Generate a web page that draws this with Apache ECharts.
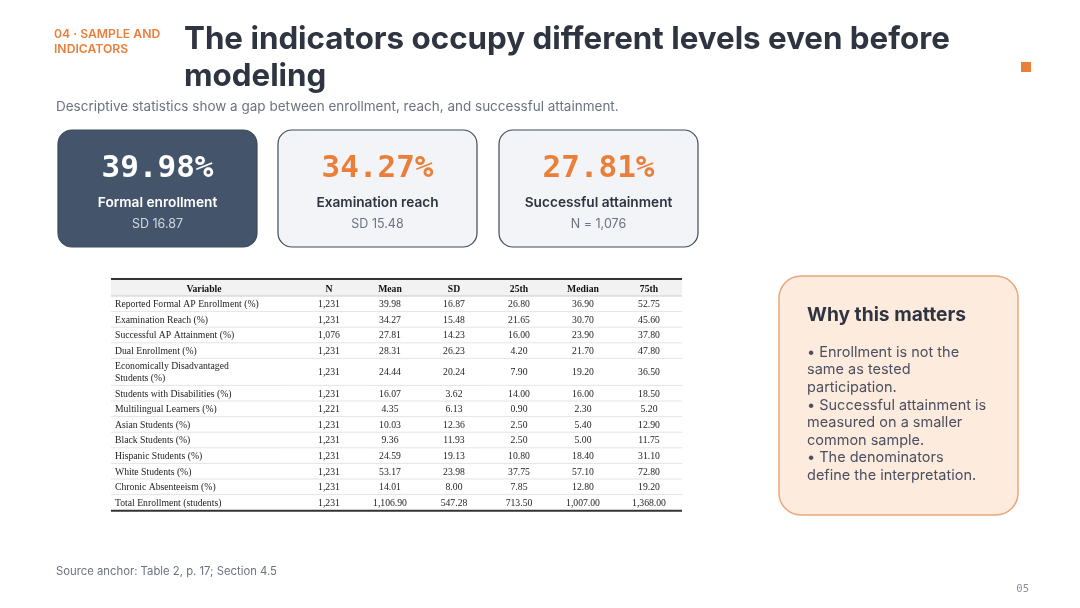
<!DOCTYPE html>
<html><head><meta charset="utf-8">
<script src="https://cdn.jsdelivr.net/npm/echarts@6/dist/echarts.min.js"></script>
<style>html,body{margin:0;padding:0;background:#fff;}#c{width:1080px;height:608px;}</style>
</head><body><div id="c"></div>
<script>
// ---- data ----
const kicker = ["04 · SAMPLE AND", "INDICATORS"];
const titleLines = ["The indicators occupy different levels even before", "modeling"];
const subtitle = "Descriptive statistics show a gap between enrollment, reach, and successful attainment.";
const cardValues = ["39.98%", "34.27%", "27.81%"];
const cardLabels = ["Formal enrollment", "Examination reach", "Successful attainment"];
const cardSubs = ["SD 16.87", "SD 15.48", "N = 1,076"];
const tableHeader = ["Variable", "N", "Mean", "SD", "25th", "Median", "75th"];
const variables = [
  ["Reported Formal AP Enrollment (%)"],
  ["Examination Reach (%)"],
  ["Successful AP Attainment (%)"],
  ["Dual Enrollment (%)"],
  ["Economically Disadvantaged", "Students (%)"],
  ["Students with Disabilities (%)"],
  ["Multilingual Learners (%)"],
  ["Asian Students (%)"],
  ["Black Students (%)"],
  ["Hispanic Students (%)"],
  ["White Students (%)"],
  ["Chronic Absenteeism (%)"],
  ["Total Enrollment (students)"]
];
const nValues = ["1,231","1,231","1,076","1,231","1,231","1,231","1,221","1,231","1,231","1,231","1,231","1,231","1,231"];
const meanValues = ["39.98","34.27","27.81","28.31","24.44","16.07","4.35","10.03","9.36","24.59","53.17","14.01","1,106.90"];
const sdValues = ["16.87","15.48","14.23","26.23","20.24","3.62","6.13","12.36","11.93","19.13","23.98","8.00","547.28"];
const p25Values = ["26.80","21.65","16.00","4.20","7.90","14.00","0.90","2.50","2.50","10.80","37.75","7.85","713.50"];
const medianValues = ["36.90","30.70","23.90","21.70","19.20","16.00","2.30","5.40","5.00","18.40","57.10","12.80","1,007.00"];
const p75Values = ["52.75","45.60","37.80","47.80","36.50","18.50","5.20","12.90","11.75","31.10","72.80","19.20","1,368.00"];
const whyTitle = "Why this matters";
const whyLines = ["• Enrollment is not the","same as tested","participation.","• Successful attainment is","measured on a smaller","common sample.","• The denominators","define the interpretation."];
const source = "Source anchor: Table 2, p. 17; Section 4.5";
const pageNo = "05";

// ---- build ----
const SANS = "Inter, 'Noto Sans', sans-serif";
const SERIF = "'Liberation Serif', 'DejaVu Serif', serif";
const MONO = "'DejaVu Sans Mono', monospace";
const ORANGE = "#EA7F3A";
const DARK = "#2E3440";
const g = [];
function txt(x, y, s, o) {
  g.push(Object.assign({type:'text', x:x, y:y, silent:true, style:Object.assign({text:s, verticalAlign:'middle', align:'left'}, o)}));
}
// header
txt(54, 34, kicker[0], {fill:ORANGE, font:"600 12.2px "+SANS});
txt(54, 49, kicker[1], {fill:ORANGE, font:"600 12.2px "+SANS});
txt(184, 39.5, titleLines[0], {fill:DARK, font:"700 31.3px "+SANS});
txt(184, 76.5, titleLines[1], {fill:DARK, font:"700 31.3px "+SANS});
g.push({type:'rect', shape:{x:1021,y:62,width:10,height:10}, style:{fill:ORANGE}});
txt(56, 106.5, subtitle, {fill:"#6B7280", font:"400 13.5px "+SANS});

// cards
const cardX = [58, 278, 499];
cardX.forEach((x, i) => {
  const dark = i === 0;
  g.push({type:'rect', shape:{x:x, y:130, width:199, height:117, r:14},
    style:{fill: dark ? "#44546B" : "#F3F4F8", stroke:"#3F4A5A", lineWidth:1.2}});
  const cx = x + 99.5;
  txt(cx, 168.5, cardValues[i], {align:'center', fill: dark ? "#FFFFFF" : ORANGE, font:"700 31px "+MONO});
  txt(cx, 202.5, cardLabels[i], {align:'center', fill: dark ? "#FFFFFF" : "#2D3440", font:"600 13.7px "+SANS});
  txt(cx, 224.5, cardSubs[i], {align:'center', fill: dark ? "#D0D6DE" : "#6B7280", font:"400 12.5px "+SANS});
});

// table
const tL = 111, tR = 682;
const colCenters = [204, 329, 390, 454, 519, 583, 649];
const cols = [nValues, meanValues, sdValues, p25Values, medianValues, p75Values];
g.push({type:'rect', shape:{x:tL, y:280, width:tR-tL, height:16}, style:{fill:"#F2F2F2"}});
g.push({type:'line', shape:{x1:tL,y1:279,x2:tR,y2:279}, style:{stroke:"#333", lineWidth:2}});
tableHeader.forEach((h, j) => txt(colCenters[j], 289, h, {align:'center', fill:"#111", font:"700 9.7px "+SERIF}));
g.push({type:'line', shape:{x1:tL,y1:296,x2:tR,y2:296}, style:{stroke:"#BFBFBF", lineWidth:0.8}});
let y = 296;
variables.forEach((v, i) => {
  const h = v.length > 1 ? 27 : 15.6;
  const cy = y + h / 2 + 0.8;
  if (v.length > 1) {
    txt(115, cy - 6, v[0], {fill:"#222", font:"400 9.7px "+SERIF});
    txt(115, cy + 6, v[1], {fill:"#222", font:"400 9.7px "+SERIF});
  } else {
    txt(115, cy, v[0], {fill:"#222", font:"400 9.7px "+SERIF});
  }
  cols.forEach((c, j) => txt(colCenters[j+1], cy, c[i], {align:'center', fill:"#222", font:"400 9.7px "+SERIF}));
  y += h;
  if (i < variables.length - 1)
    g.push({type:'line', shape:{x1:tL,y1:y,x2:tR,y2:y}, style:{stroke:"#DDDDDD", lineWidth:0.8}});
});
g.push({type:'line', shape:{x1:tL,y1:y+0.5,x2:tR,y2:y+0.5}, style:{stroke:"#333", lineWidth:2}});

// why box
g.push({type:'rect', shape:{x:779, y:276, width:239, height:239, r:22},
  style:{fill:"#FDEBDD", stroke:"#E9A678", lineWidth:1.5}});
txt(807, 315.5, whyTitle, {fill:DARK, font:"700 19.2px "+SANS});
whyLines.forEach((l, i) => txt(807, 352.5 + i * 17.6, l, {fill:"#4A5060", font:"400 14.5px "+SANS}));

// footer
txt(56, 571.5, source, {fill:"#6B7280", font:"400 11.3px "+SANS});
txt(1029, 589, pageNo, {align:'right', fill:"#8A8F98", font:"400 10.5px "+MONO});

const chart = echarts.init(document.getElementById('c'), null, {renderer:'canvas'});
chart.setOption({animation:false, backgroundColor:'#FFFFFF', graphic:{elements:g}});
</script></body></html>
